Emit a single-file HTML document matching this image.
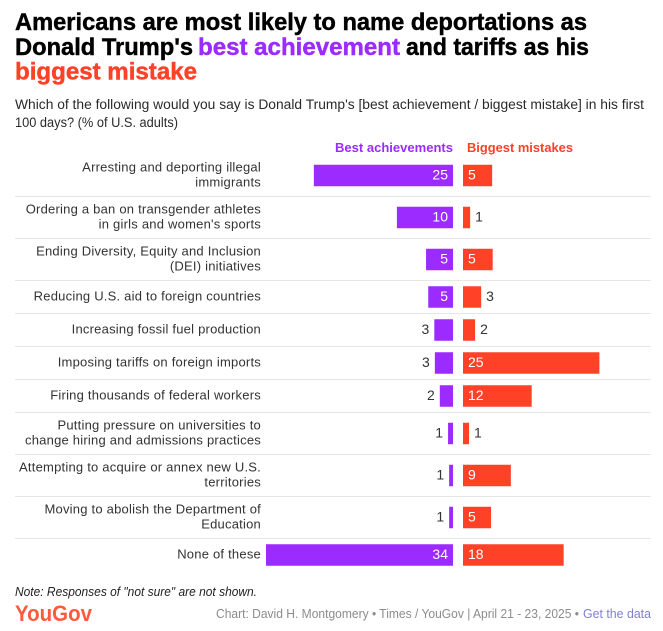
<!DOCTYPE html>
<html lang="en">
<head>
<meta charset="utf-8">
<title>Best achievement and biggest mistake</title>
<style>
html,body{margin:0;padding:0;background:#fff;width:663px;height:631px;overflow:hidden}
svg{display:block;font-family:"Liberation Sans",sans-serif}
.title{font-size:24px;font-weight:700;fill:#000;stroke:currentColor;stroke-width:.45px}
.sub{font-size:13.5px;fill:#2a2a2a}
.hdr{font-size:13px;font-weight:700}
.row-label{font-size:13px;fill:#333;letter-spacing:.22px}
.val{font-size:14px}
.foot{font-size:12.5px;fill:#8c8c8c}
</style>
</head>
<body>
<svg id="chart" xmlns="http://www.w3.org/2000/svg" width="663" height="631" viewBox="0 0 663 631">
  <g>
    <text class="title" x="15" y="30" textLength="572" lengthAdjust="spacingAndGlyphs" style="color:#000">Americans are most likely to name deportations as</text>
    <text class="title" x="15" y="55" textLength="178" lengthAdjust="spacingAndGlyphs" style="color:#000">Donald Trump's</text>
    <text class="title" x="198" y="55" textLength="202" lengthAdjust="spacingAndGlyphs" style="fill:#9b2bff;color:#9b2bff">best achievement</text>
    <text class="title" x="406" y="55" textLength="183" lengthAdjust="spacingAndGlyphs" style="color:#000">and tariffs as his</text>
    <text class="title" x="15" y="79.5" textLength="182" lengthAdjust="spacingAndGlyphs" style="fill:#ff4128;color:#ff4128">biggest mistake</text>
  </g>
  <text class="sub" x="15" y="109" textLength="629" lengthAdjust="spacingAndGlyphs">Which of the following would you say is Donald Trump's [best achievement / biggest mistake] in his first</text>
  <text class="sub" x="15" y="127" textLength="163" lengthAdjust="spacingAndGlyphs">100 days? (% of U.S. adults)</text>
  <text class="hdr" x="335" y="152" textLength="118" lengthAdjust="spacingAndGlyphs" style="fill:#9b2bff">Best achievements</text>
  <text class="hdr" x="467" y="152" textLength="106" lengthAdjust="spacingAndGlyphs" style="fill:#ff4128">Biggest mistakes</text>
  <g id="rows"></g>
  <text x="15" y="596" font-size="12.5" font-style="italic" fill="#222" textLength="242" lengthAdjust="spacingAndGlyphs">Note: Responses of "not sure" are not shown.</text>
  <text x="15" y="621" font-size="22" font-weight="700" fill="#ff5a3c" textLength="77" lengthAdjust="spacingAndGlyphs">YouGov</text>
  <text class="foot" x="216" y="618" textLength="363" lengthAdjust="spacingAndGlyphs">Chart: David H. Montgomery • Times / YouGov | April 21 - 23, 2025 •</text>
  <text class="foot" x="583" y="618" textLength="68" lengthAdjust="spacingAndGlyphs" style="fill:#7f7fd6">Get the data</text>
</svg>
<script>
const categories = [
  ["Arresting and deporting illegal", "immigrants"],
  ["Ordering a ban on transgender athletes", "in girls and women's sports"],
  ["Ending Diversity, Equity and Inclusion", "(DEI) initiatives"],
  ["Reducing U.S. aid to foreign countries"],
  ["Increasing fossil fuel production"],
  ["Imposing tariffs on foreign imports"],
  ["Firing thousands of federal workers"],
  ["Putting pressure on universities to", "change hiring and admissions practices"],
  ["Attempting to acquire or annex new U.S.", "territories"],
  ["Moving to abolish the Department of", "Education"],
  ["None of these"]
];
const bestValues = [25.3, 10.2, 4.9, 4.5, 3.4, 3.3, 2.4, 0.9, 0.7, 0.7, 34];
const mistakeValues = [5.3, 1.3, 5.4, 3.3, 2.2, 24.8, 12.49, 1.1, 8.7, 5.1, 18.3];

const SVG_NS = "http://www.w3.org/2000/svg";
const UNIT = 5.5;
const BEST_ZERO = 453;
const MISTAKE_ZERO = 463;
const INSIDE_MIN = 4;
const BAR_HEIGHT = 21.5;
const holder = document.getElementById("rows");

function xBest(v) { return BEST_ZERO - v * UNIT; }
function xMistake(v) { return MISTAKE_ZERO + v * UNIT; }
function rowHeight(lines) { return lines === 2 ? 42 : 33; }
function make(tag) { return document.createElementNS(SVG_NS, tag); }

let rowTop = 155;
categories.forEach(function (lines, i) {
  const h = rowHeight(lines.length);
  const mid = rowTop + h / 2 - 0.5;
  const best = bestValues[i];
  const mistake = mistakeValues[i];

  lines.forEach(function (line, j) {
    const label = make("text");
    
    
    label.setAttribute("class", "row-label");
    label.setAttribute("x", 261);
    label.setAttribute("y", mid + 3.3 + (j - (lines.length - 1) / 2) * 15);
    label.setAttribute("text-anchor", "end");
    label.textContent = line;
    holder.appendChild(label);
  });

  const bestBar = make("rect");
  
  
  bestBar.setAttribute("x", xBest(best));
  bestBar.setAttribute("y", mid - BAR_HEIGHT / 2);
  bestBar.setAttribute("width", BEST_ZERO - xBest(best));
  bestBar.setAttribute("height", BAR_HEIGHT);
  bestBar.setAttribute("fill", "#9b2bff");
  holder.appendChild(bestBar);

  const mistakeBar = make("rect");
  
  
  mistakeBar.setAttribute("x", MISTAKE_ZERO);
  mistakeBar.setAttribute("y", mid - BAR_HEIGHT / 2);
  mistakeBar.setAttribute("width", xMistake(mistake) - MISTAKE_ZERO);
  mistakeBar.setAttribute("height", BAR_HEIGHT);
  mistakeBar.setAttribute("fill", "#ff4128");
  holder.appendChild(mistakeBar);

  const bestInside = best >= INSIDE_MIN;
  const bestLabel = make("text");
  
  
  bestLabel.setAttribute("class", "val");
  bestLabel.setAttribute("x", bestInside ? BEST_ZERO - 5 : xBest(best) - 5);
  bestLabel.setAttribute("y", mid + 4);
  bestLabel.setAttribute("text-anchor", "end");
  bestLabel.setAttribute("fill", bestInside ? "#ffffff" : "#333333");
  bestLabel.textContent = Math.round(best);
  holder.appendChild(bestLabel);

  const mistakeInside = mistake >= INSIDE_MIN;
  const mistakeLabel = make("text");
  
  
  mistakeLabel.setAttribute("class", "val");
  mistakeLabel.setAttribute("x", mistakeInside ? MISTAKE_ZERO + 5 : xMistake(mistake) + 5);
  mistakeLabel.setAttribute("y", mid + 4);
  mistakeLabel.setAttribute("fill", mistakeInside ? "#ffffff" : "#333333");
  mistakeLabel.textContent = Math.round(mistake);
  holder.appendChild(mistakeLabel);

  rowTop += h;

  if (i < categories.length - 1) {
    const sep = make("line");
    
    
    sep.setAttribute("x1", 15);
    sep.setAttribute("x2", 651);
    sep.setAttribute("y1", rowTop - 0.5);
    sep.setAttribute("y2", rowTop - 0.5);
    sep.setAttribute("stroke", "#e6e6e6");
    sep.setAttribute("stroke-width", 1);
    holder.appendChild(sep);
  }
});
</script>
</body>
</html>
